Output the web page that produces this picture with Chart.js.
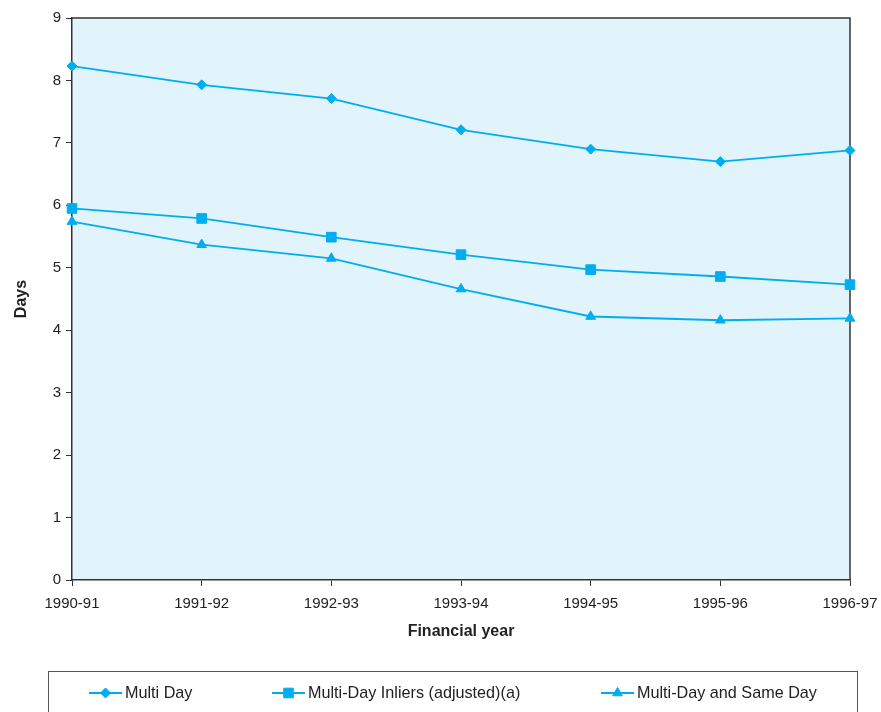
<!DOCTYPE html>
<html>
<head>
<meta charset="utf-8">
<title>Average length of stay</title>
<script src="https://cdn.jsdelivr.net/npm/chart.js@4.4.1/dist/chart.umd.min.js"></script>
<style>
  html, body { margin: 0; padding: 0; background: #ffffff; }
  #wrap { width: 881px; height: 712px; position: relative; }
</style>
</head>
<body>
<div id="wrap"><canvas id="chart" width="881" height="712"></canvas></div>
<script>
// Financial years on the x axis
const years = ['1990-91', '1991-92', '1992-93', '1993-94', '1994-95', '1995-96', '1996-97'];

// Average length of stay (days) for each series
const multiDay        = [8.23, 7.93, 7.71, 7.21, 6.90, 6.70, 6.88];
const multiDayInliers = [5.95, 5.79, 5.49, 5.21, 4.97, 4.86, 4.73];
const multiAndSameDay = [5.74, 5.37, 5.15, 4.66, 4.22, 4.16, 4.19];

const seriesNames = ['Multi Day', 'Multi-Day Inliers (adjusted)(a)', 'Multi-Day and Same Day'];

const LINE = '#00aeef';
const AXIS = '#333333';
const TEXT = '#222222';
const FONT = "'Liberation Sans', Arial, sans-serif";

// Shaded plot area with a dark frame around it
const plotFrame = {
  id: 'plotFrame',
  beforeDraw(chart) {
    const { ctx, chartArea: a } = chart;
    ctx.save();
    ctx.fillStyle = '#e1f3fb';
    ctx.fillRect(a.left, a.top, a.right - a.left, a.bottom - a.top);
    ctx.restore();
  },
  beforeDatasetsDraw(chart) {
    const { ctx, chartArea: a } = chart;
    ctx.save();
    ctx.strokeStyle = AXIS;
    ctx.lineWidth = 1.5;
    ctx.beginPath();
    ctx.moveTo(a.left, a.top);
    ctx.lineTo(a.right, a.top);
    ctx.lineTo(a.right, a.bottom);
    ctx.stroke();
    ctx.restore();
  }
};

// Boxed legend along the bottom of the canvas
const boxedLegend = {
  id: 'boxedLegend',
  afterDraw(chart) {
    const { ctx } = chart;
    const box = { left: 48.5, top: 671.5, right: 857.5, bottom: 720 };
    const itemX = [89, 272, 601];
    const rowY = 693;
    ctx.save();
    ctx.strokeStyle = '#555555';
    ctx.lineWidth = 1;
    ctx.strokeRect(box.left, box.top, box.right - box.left, box.bottom - box.top);
    ctx.font = '16.2px ' + FONT;
    ctx.textBaseline = 'middle';
    ctx.textAlign = 'left';
    chart.data.datasets.forEach((ds, i) => {
      const x = itemX[i];
      ctx.strokeStyle = ds.borderColor;
      ctx.lineWidth = ds.borderWidth;
      ctx.beginPath();
      ctx.moveTo(x, rowY);
      ctx.lineTo(x + 33, rowY);
      ctx.stroke();
      ctx.fillStyle = ds.pointBackgroundColor;
      ctx.strokeStyle = ds.pointBorderColor;
      ctx.lineWidth = 1;
      Chart.helpers.drawPoint(ctx, {
        pointStyle: ds.pointStyle,
        radius: ds.pointRadius,
        borderWidth: 1,
        rotation: 0
      }, x + 16.5, rowY);
      ctx.fillStyle = TEXT;
      ctx.fillText(ds.label, x + 36, rowY + 1);
    });
    ctx.restore();
  }
};

function makeSeries(label, data, style, radius) {
  return {
    label,
    data,
    borderColor: LINE,
    backgroundColor: LINE,
    borderWidth: 1.8,
    pointStyle: style,
    pointRadius: radius,
    pointHoverRadius: radius,
    pointBackgroundColor: LINE,
    pointBorderColor: LINE,
    pointBorderWidth: 1,
    tension: 0,
    fill: false
  };
}

new Chart(document.getElementById('chart'), {
  type: 'line',
  data: {
    labels: years,
    datasets: [
      makeSeries(seriesNames[0], multiDay, 'rectRot', 5),
      makeSeries(seriesNames[1], multiDayInliers, 'rect', 6.8),
      makeSeries(seriesNames[2], multiAndSameDay, 'triangle', 5.6)
    ]
  },
  options: {
    responsive: false,
    animation: false,
    devicePixelRatio: 1,
    layout: { padding: { left: 0, top: 18, right: 31, bottom: 62 } },
    plugins: {
      legend: { display: false },
      tooltip: { enabled: false }
    },
    scales: {
      x: {
        type: 'category',
        offset: false,
        afterFit(scale) {
          scale.height = 70;
          scale.paddingLeft = 0;
          scale.paddingRight = 0;
        },
        border: { display: true, color: AXIS, width: 1.5 },
        grid: {
          display: true, drawOnChartArea: false, drawTicks: true,
          tickLength: 6, color: AXIS, tickColor: AXIS, lineWidth: 1
        },
        ticks: {
          color: TEXT, padding: 9, maxRotation: 0, autoSkip: false,
          font: { family: FONT, size: 15 }
        },
        title: {
          display: true, text: 'Financial year', color: TEXT,
          padding: { top: 0, bottom: 9 },
          font: { family: FONT, size: 16, weight: 'bold' }
        }
      },
      y: {
        min: 0, max: 9,
        afterFit(scale) { scale.width = 72; },
        border: { display: true, color: AXIS, width: 1.5 },
        grid: {
          display: true, drawOnChartArea: false, drawTicks: true,
          tickLength: 6, color: AXIS, tickColor: AXIS, lineWidth: 1
        },
        ticks: {
          stepSize: 1, color: TEXT, padding: 5,
          font: { family: FONT, size: 15 }
        },
        title: {
          display: true, text: 'Days', color: TEXT,
          padding: { top: 12, bottom: 0 },
          font: { family: FONT, size: 16, weight: 'bold' }
        }
      }
    }
  },
  plugins: [plotFrame, boxedLegend]
});
</script>
</body>
</html>
